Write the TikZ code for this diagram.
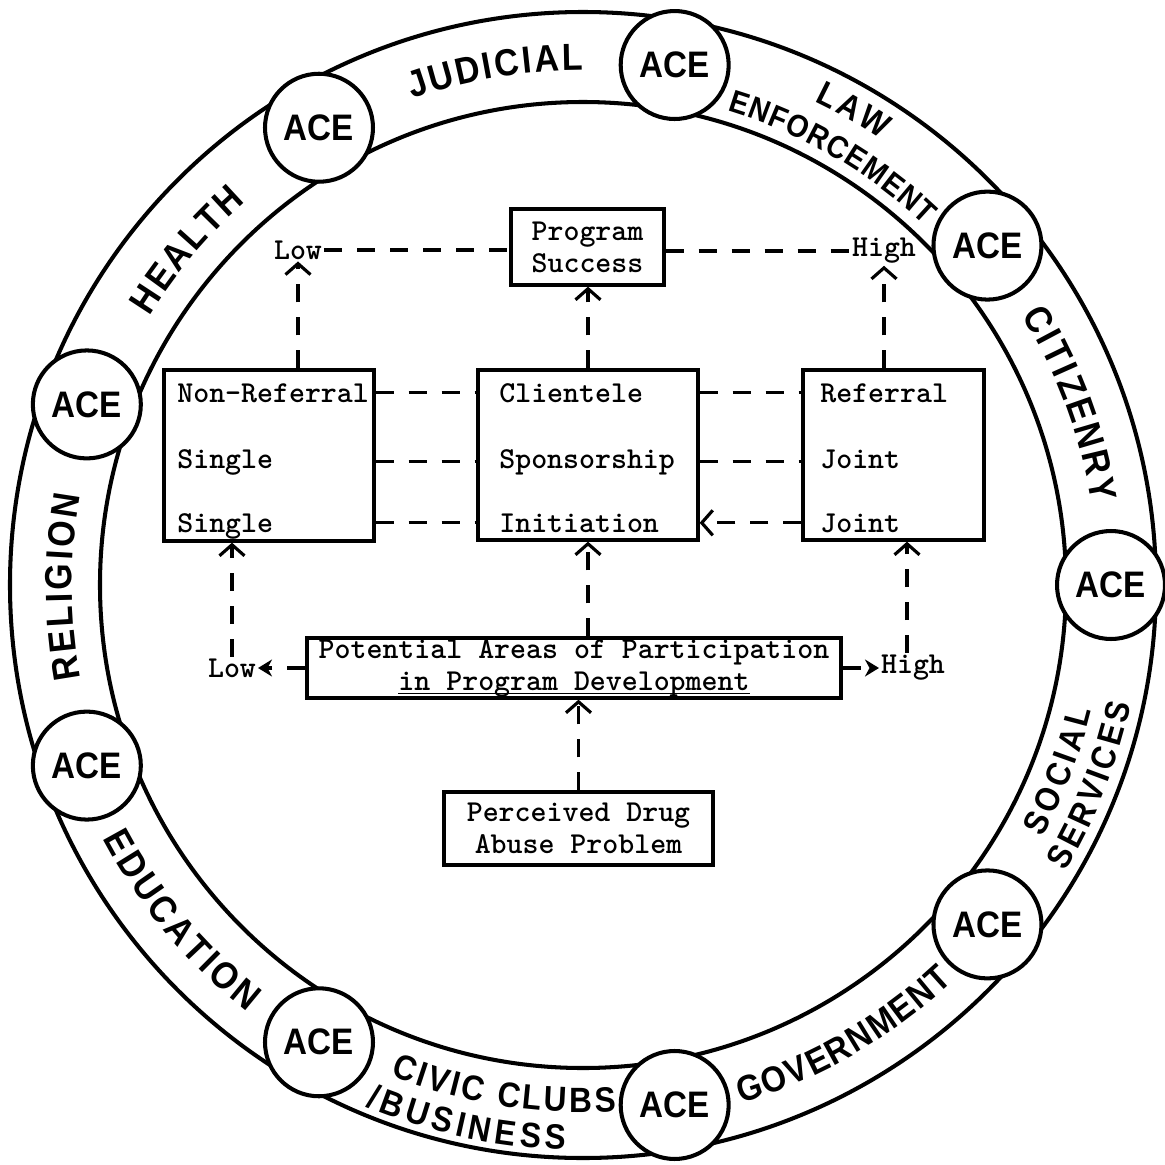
\documentclass[tikz,border=0pt]{standalone}
\usepackage{fontspec}
\usetikzlibrary{arrows.meta}
\newfontfamily\ringfont{Liberation Sans}[FakeStretch=0.9]
\newcommand\ringsize[1]{\ringfont\bfseries\fontsize{#1}{#1}\selectfont}
\newcommand\typer{\ttfamily\bfseries\fontsize{17.3}{18.2}\selectfont}
\newcommand\typeline[1]{\setbox0\hbox{#1}\rlap{\rule[-2.5pt]{\wd0}{1.1pt}}\box0}
\newdimen\letw
\tikzset{ringline/.style={line width=2.3pt},
ace/.style={circle,draw,fill=white,line width=2.3pt,minimum size=2.16cm,inner sep=0pt,
  font=\ringsize{21}},
ringtext/.style={inner sep=0pt},
box/.style={draw,line width=1.9pt,inner sep=0pt,font=\typer,align=center},
rowtext/.style={inner sep=0pt,font=\typer,anchor=base west},
lvl/.style={inner sep=1pt,font=\typer},
dashline/.style={line width=1.8pt,dash pattern=on 0.36cm off 0.3cm},
uptip/.style={-{Straight Barb[length=0.22cm,width=0.5cm]}},
blobtip/.style={-{Stealth[length=0.28cm,width=0.34cm]}}}
% width of one ring letter, in px
\newcommand\measure[2]{\setbox0\hbox{\pgfinterruptpicture\ringsize{#1}#2\endpgfinterruptpicture}%
  \global\letw=\wd0}
% size, radius, centre angle, tracking (px), 1 clockwise / -1 counter, letters
\newcommand\arcword[6]{%
  \xdef\arcsum{0}%
  \foreach \ch in {#6}{\measure{#1}{\ch}%
    \pgfmathparse{\arcsum+\the\letw/0.569055+#4}\xdef\arcsum{\pgfmathresult}}%
  \pgfmathparse{-\arcsum/2}\xdef\arcpos{\pgfmathresult}%
  \foreach \ch in {#6}{\measure{#1}{\ch}%
    \pgfmathsetmacro\lettang{#3-(#5)*deg((\arcpos+(\the\letw/0.569055+#4)/2)/#2)}%
    \pgfmathsetmacro\lettrot{\lettang-(#5)*90}%
    \node[ringtext,font=\ringsize{#1},rotate=\lettrot] at (\lettang:#2) {\ch};
    \pgfmathparse{\arcpos+\the\letw/0.569055+#4}\xdef\arcpos{\pgfmathresult}}}
\begin{document}
\begin{tikzpicture}[x=0.02cm,y=0.02cm]
\useasboundingbox (-583,-579) rectangle (582,585);
% the ring of agencies
\draw[ringline] (0,0) circle[radius=573];
\draw[ringline] (0,0) circle[radius=483];
\foreach \a in {0,40,...,320}
  \node[ace] (ace\a) at (\a:528) {ACE};
\arcword{21.5}{528}{99.7}{3}{1}{J,U,D,I,C,I,A,L}
\arcword{21.5}{523}{139.8}{3}{1}{H,E,A,L,T,H}
\arcword{21.5}{524}{180.2}{3.5}{1}{R,E,L,I,G,I,O,N}
\arcword{21.5}{528}{20.4}{3.3}{1}{C,I,T,I,Z,E,N,R,Y}
\arcword{19.5}{548}{60.3}{4}{1}{L,A,W}
\arcword{18}{507}{59.8}{1.5}{1}{E,N,F,O,R,C,E,M,E,N,T}
\arcword{20.5}{530}{-60}{1}{-1}{G,O,V,E,R,N,M,E,N,T}
\arcword{21.5}{530}{-140.2}{2.5}{-1}{E,D,U,C,A,T,I,O,N}
\arcword{19.5}{512}{-21.3}{3.5}{-1}{S,O,C,I,A,L}
\arcword{19.5}{549}{-21.5}{3}{-1}{S,E,R,V,I,C,E,S}
\arcword{20}{515}{-98.9}{2.4}{-1}{C,I,V,I,C,\ ,C,L,U,B,S}
\arcword{20}{553}{-102.2}{4}{-1}{/,B,U,S,I,N,E,S,S}
% boxes
\node[box,minimum width=3.06cm,minimum height=1.52cm] (success) at (4.5,338) {Program\\Success};
\node[box,minimum width=4.2cm,minimum height=3.42cm] (single) at (-314,129.5) {};
\node[box,minimum width=4.4cm,minimum height=3.4cm] (client) at (5,130) {};
\node[box,minimum width=3.62cm,minimum height=3.4cm] (joint) at (310.5,130) {};
\node[box,minimum width=10.68cm,minimum height=1.2cm] (areas) at (-9,-83)
  {Potential Areas of Participation\\\typeline{in Program Development}};
\node[box,minimum width=5.38cm,minimum height=1.46cm] (problem) at (-4.5,-243.5)
  {Perceived Drug\\Abuse Problem};
\foreach \n/\y/\s/\c/\j in {1/183/Non-Referral/Clientele/Referral,
  2/117/Single/Sponsorship/Joint,3/53/Single/Initiation/Joint}{
  \node[rowtext] (s\n) at (-406,\y) {\s};
  \node[rowtext] (c\n) at (-84,\y) {\c};
  \node[rowtext] (j\n) at (237,\y) {\j};}
\node[lvl] (lowtop) at (-285,335) {Low};
\node[lvl] (hightop) at (301,334) {High};
\node[lvl] (lowbot) at (-351,-83) {Low};
\node[lvl] (highbot) at (330,-83) {High};
% connectors
\draw[dashline] (lowtop.east) -- (lowtop.east -| success.west);
\draw[dashline] (success.east |- hightop) -- (hightop.west);
\draw[dashline,uptip] (lowtop |- single.north) -- (lowtop.south);
\draw[dashline,uptip] (client.north) -- (client.north |- success.south);
\draw[dashline,uptip] (hightop |- joint.north) -- (hightop.south);
\foreach \n in {1,2,3}
  \draw[dashline] (c\n -| single.east) -- (c\n -| client.west);
\foreach \n in {1,2}
  \draw[dashline] (c\n -| client.east) -- (c\n -| joint.west);
\draw[dashline,uptip] (c3 -| joint.west) -- (c3 -| client.east);
\draw[dashline,uptip] (problem.north) -- (problem.north |- areas.south);
\draw[dashline,uptip] (areas.north -| client.south) -- (client.south);
\draw[dashline,blobtip] (areas.west) -- (lowbot.east);
\draw[dashline,blobtip] (areas.east) -- (highbot.west);
\draw[dashline,uptip] (lowbot.north) -- (lowbot.north |- single.south);
\draw[dashline,uptip] ([xshift=-0.12cm]highbot.north) -- ([xshift=-0.12cm]highbot.north |- joint.south);
\end{tikzpicture}
\end{document}
